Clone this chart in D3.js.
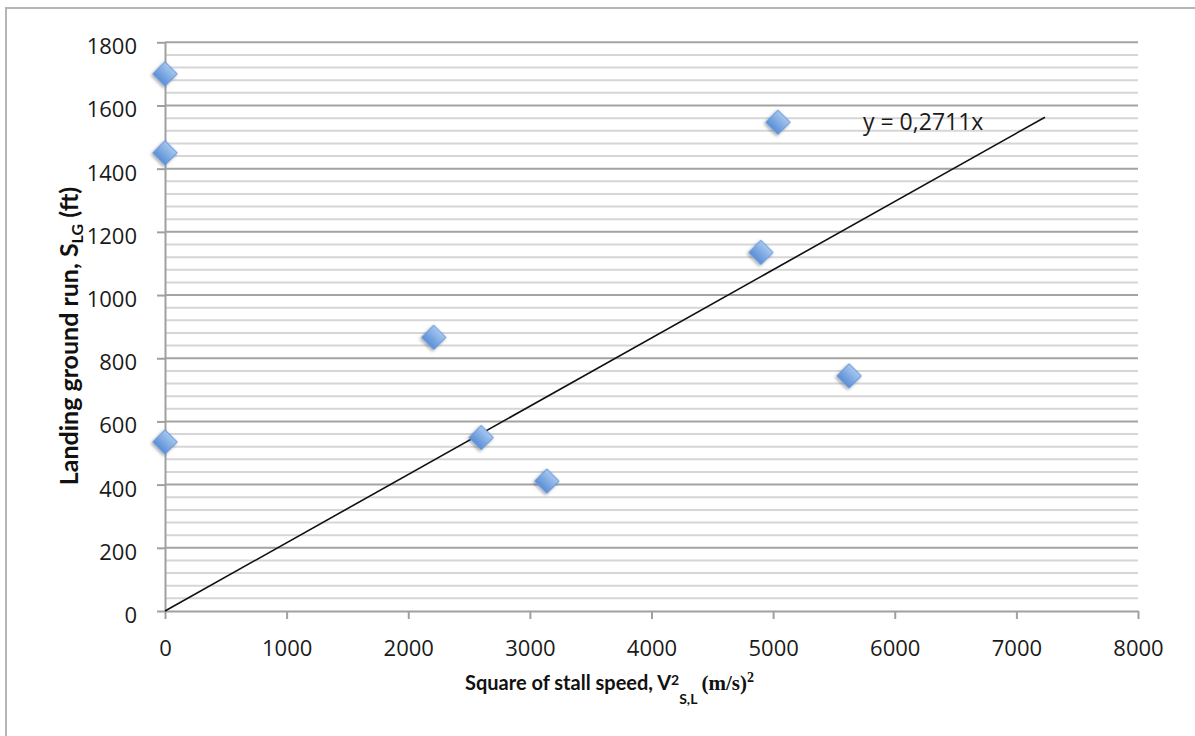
<!DOCTYPE html>
<meta charset="utf-8">
<script src="https://d3js.org/d3.v7.min.js"></script>
<style>
    body { margin: 0; background: #fff; }
    .tick text { font-family: "Open Sans", Lato, sans-serif; font-size: 22px; fill: #1a1a1a; }
    .axis-title { font-family: Lato, "Open Sans", sans-serif; font-weight: bold; fill: #111; }
</style>
<div id="my_dataviz"></div>
<script>
    // scatter points: V^2 stall speed vs landing ground run
    var speedSq = [0, 0, 0, 2210, 2600, 3140, 4900, 5040, 5625];
    var groundRun = [1700, 1450, 535, 866, 549, 411, 1135, 1547, 744];

    // trend line end points as drawn
    var trendX = [0, 7235];
    var trendY = [0, 1563];
    var trendLabel = "y = 0,2711x";

    var xTicks = [0, 1000, 2000, 3000, 4000, 5000, 6000, 7000, 8000];
    var yTicks = [0, 200, 400, 600, 800, 1000, 1200, 1400, 1600, 1800];
    var yMinor = d3.range(0, 1801, 40);

    var W = 1195, H = 736;
    var svg = d3.select("#my_dataviz")
        .append("svg")
        .attr("width", W)
        .attr("height", H);

    // outer frame
    svg.append("rect")
        .attr("x", 6).attr("y", 8)
        .attr("width", 1300).attr("height", 800)
        .attr("fill", "none")
        .attr("stroke", "#b5b5b5")
        .attr("stroke-width", 2);

    var x = d3.scaleLinear().domain([0, 8000]).range([165, 1138]);
    var y = d3.scaleLinear().domain([0, 1800]).range([611, 42.3]);

    var defs = svg.append("defs");
    var grad = defs.append("linearGradient")
        .attr("id", "mk").attr("x1", 0).attr("y1", 0).attr("x2", 0).attr("y2", 1);
    grad.append("stop").attr("offset", "0%").attr("stop-color", "#a6c8f0");
    grad.append("stop").attr("offset", "100%").attr("stop-color", "#5a8ed6");
    var f = defs.append("filter").attr("id", "shadow")
        .attr("x", "-50%").attr("y", "-50%").attr("width", "200%").attr("height", "200%");
    f.append("feDropShadow")
        .attr("dx", 0).attr("dy", 2).attr("stdDeviation", 1.5)
        .attr("flood-color", "#000").attr("flood-opacity", 0.35);

    // minor gridlines
    svg.append("g").selectAll("line")
        .data(yMinor.filter(function (d) { return d % 200 !== 0; }))
        .enter().append("line")
        .attr("x1", x(0)).attr("x2", x(8000))
        .attr("y1", function (d) { return y(d); })
        .attr("y2", function (d) { return y(d); })
        .attr("stroke", "#d6d6d6")
        .attr("stroke-width", 2);

    // major gridlines
    svg.append("g").selectAll("line")
        .data(yTicks.filter(function (d) { return d > 0; }))
        .enter().append("line")
        .attr("x1", x(0)).attr("x2", x(8000))
        .attr("y1", function (d) { return y(d); })
        .attr("y2", function (d) { return y(d); })
        .attr("stroke", "#a3a3a3")
        .attr("stroke-width", 2);

    // Y axis
    var gy = svg.append("g")
        .attr("transform", "translate(" + x(0) + ",0)")
        .call(d3.axisLeft(y).tickValues(yTicks).tickFormat(d3.format("d"))
            .tickSize(8).tickSizeOuter(0).tickPadding(20));
    gy.selectAll("text").attr("dy", "0.52em");

    // X axis
    var gx = svg.append("g")
        .attr("transform", "translate(0," + y(0) + ")")
        .call(d3.axisBottom(x).tickValues(xTicks).tickFormat(d3.format("d"))
            .tickSize(8).tickSizeOuter(0).tickPadding(21));

    svg.selectAll(".domain, .tick line")
        .attr("stroke", "#a0a0a0")
        .attr("stroke-width", 2);

    // trend line
    svg.append("line")
        .attr("x1", x(trendX[0])).attr("y1", y(trendY[0]))
        .attr("x2", x(trendX[1])).attr("y2", y(trendY[1]))
        .attr("stroke", "#111")
        .attr("stroke-width", 1.6);

    svg.append("text")
        .attr("x", 863).attr("y", 130)
        .style("font-family", "'Open Sans', Lato, sans-serif")
        .style("font-size", "23px")
        .style("fill", "#1a1a1a")
        .text(trendLabel);

    // markers
    var pts = speedSq.map(function (v, i) { return { x: v, y: groundRun[i] }; });
    svg.append("g").selectAll("path")
        .data(pts)
        .enter().append("path")
        .attr("d", d3.symbol().type(d3.symbolSquare).size(300))
        .attr("transform", function (d) { return "translate(" + x(d.x) + "," + y(d.y) + ") rotate(45)"; })
        .attr("fill", "url(#mk)")
        .attr("stroke", "#6a98d6")
        .attr("stroke-width", 1)
        .attr("filter", "url(#shadow)");

    // X axis title
    var xt = svg.append("text")
        .attr("class", "axis-title")
        .style("font-size", "20px")
        .attr("x", 465).attr("y", 690);
    xt.append("tspan").text("Square of stall speed, V");
    xt.append("tspan").attr("dy", -5).style("font-size", "14px").text("2");
    xt.append("tspan").attr("dy", 19).style("font-size", "14px").text("S,L");
    xt.append("tspan").attr("dy", -14).attr("dx", 4)
        .style("font-family", "'Liberation Serif', 'DejaVu Serif', serif")
        .style("font-size", "21px")
        .text("(m/s)");
    xt.append("tspan").attr("dy", -8)
        .style("font-family", "'Liberation Serif', 'DejaVu Serif', serif")
        .style("font-size", "14px")
        .text("2");

    // Y axis title
    var yt = svg.append("text")
        .attr("class", "axis-title")
        .style("font-size", "25px")
        .attr("text-anchor", "middle")
        .attr("transform", "translate(78,336) rotate(-90)");
    yt.append("tspan").text("Landing ground run, S");
    yt.append("tspan").attr("dy", 5).style("font-size", "16px").text("LG");
    yt.append("tspan").attr("dy", -5).text(" (ft)");
</script>
